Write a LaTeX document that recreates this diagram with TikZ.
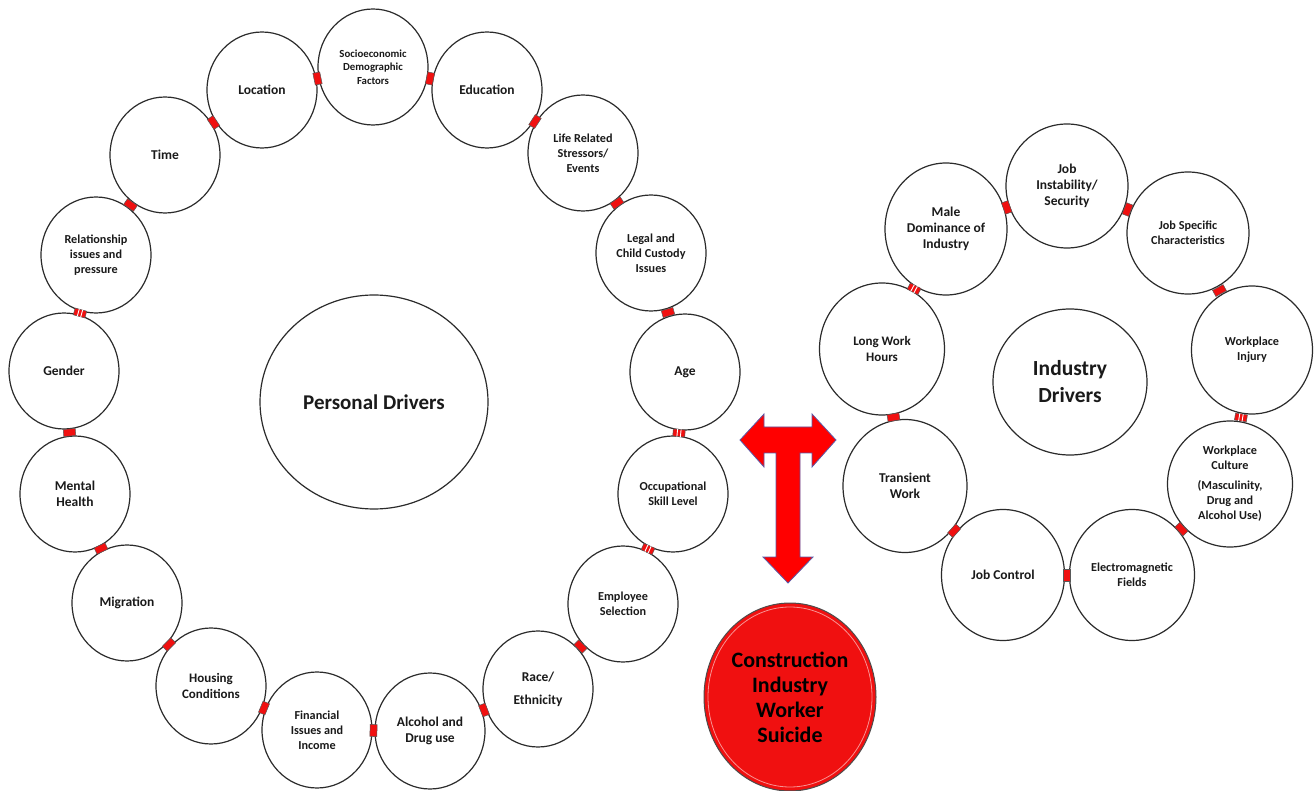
\documentclass[tikz,border=0pt]{standalone}
\usepackage{fontspec}
\setmainfont{Carlito}
\usetikzlibrary{shapes.geometric,calc}
\newcommand\fsz[2]{\fontsize{#1}{#2}\selectfont\bfseries}
\definecolor{ringline}{HTML}{2B2B2B}
\definecolor{txt}{HTML}{1A1A1A}
\definecolor{linkred}{HTML}{F01010}
\definecolor{arrowedge}{HTML}{5A5AA8}
\tikzset{
  bub/.style={shape=ellipse, draw=ringline, line width=1.2pt, fill=white, inner sep=0pt,
    minimum width=110pt, minimum height=116pt, align=center, text=txt, font={\fsz{13.5}{16}}},
  bigbub/.style={bub, minimum width=122pt, minimum height=128pt},
  small/.style={font={\fsz{12.2}{15}}},
  tiny/.style={font={\fsz{10.8}{13.5}}},
  conn/.style={draw=black!65, line width=0.5pt, fill=linkred, minimum width=7pt, minimum height=12pt, inner sep=0pt, sloped},
  stripe/.style={white, line width=0.9pt},
}
\newcommand\lnk[3]{\path (#1) -- node[conn](#3){} (#2);}
\newcommand\striped[1]{%
  \draw[stripe] ($(#1.north west)!0.36!(#1.south west)$) -- ($(#1.north east)!0.36!(#1.south east)$);
  \draw[stripe] ($(#1.north west)!0.64!(#1.south west)$) -- ($(#1.north east)!0.64!(#1.south east)$);}
\begin{document}
\begin{tikzpicture}[x=1pt,y=-1pt]
\useasboundingbox (0,0) rectangle (1315,791);
% ---------- Personal drivers ring ----------
\node[bub, tiny] (socio) at (373,67) {Socioeconomic\\Demographic\\Factors};
\node[bub] (edu) at (487,90) {Education};
\node[bub, small] (life) at (583,153) {Life Related\\Stressors/\\Events};
\node[bub, small] (legal) at (651,253) {Legal and\\Child Custody\\Issues};
\node[bub] (age) at (685,372) {Age};
\node[bub, small] (occ) at (673,494) {Occupational\\Skill Level};
\node[bub, small] (emp) at (623,604) {Employee\\Selection};
\node[bub] (race) at (538,689) {Race/\\[7pt]Ethnicity};
\node[bub] (alc) at (430,731) {Alcohol and\\Drug use};
\node[bub, small] (fin) at (317,730) {Financial\\Issues and\\Income};
\node[bub, font={\fsz{13}{15.5}}] (house) at (211,686) {Housing\\Conditions};
\node[bub] (mig) at (127,603) {Migration};
\node[bub] (mental) at (75,494) {Mental\\Health};
\node[bub] (gender) at (64,371) {Gender};
\node[bub, small] (rel) at (96,255) {Relationship\\issues and\\pressure};
\node[bub] (time) at (165,155) {Time};
\node[bub] (loc) at (262,90) {Location};
\node[bub, minimum width=228pt, minimum height=214pt, font={\fsz{21}{25}}] (pers) at (374,402) {Personal Drivers};
\lnk{socio}{edu}{c1}
\lnk{edu}{life}{c2}
\lnk{life}{legal}{c3}
\lnk{legal}{age}{c4}
\lnk{age}{occ}{c5}
\lnk{occ}{emp}{c6}
\lnk{emp}{race}{c7}
\lnk{race}{alc}{c8}
\lnk{alc}{fin}{c9}
\lnk{fin}{house}{c10}
\lnk{house}{mig}{c11}
\lnk{mig}{mental}{c12}
\lnk{mental}{gender}{c13}
\lnk{gender}{rel}{c14}
\lnk{rel}{time}{c15}
\lnk{time}{loc}{c16}
\lnk{loc}{socio}{c17}
\striped{c5}
\striped{c6}
\striped{c14}
% ---------- Industry drivers ring ----------
\node[bigbub, minimum height=124pt] (jobi) at (1067,186) {Job\\Instability/\\Security};
\node[bigbub, small, minimum height=122pt] (jobs) at (1188,233) {Job Specific\\Characteristics};
\node[bigbub, small, minimum width=121pt] (inj) at (1252,350) {Workplace\\Injury};
\node[bigbub, small, minimum width=125pt, minimum height=126pt] (cult) at (1230,484) {Workplace\\Culture\\[5pt](Masculinity,\\Drug and\\Alcohol Use)};
\node[bigbub, small, minimum width=125pt, minimum height=131pt] (emf) at (1132,575) {Electromagnetic\\Fields};
\node[bigbub, minimum width=123pt, minimum height=131pt] (jobc) at (1003,575) {Job Control};
\node[bigbub, minimum width=124pt, minimum height=133pt] (trans) at (905,486) {Transient\\Work};
\node[bigbub, font={\fsz{13}{15.5}}, minimum width=125pt, minimum height=132pt] (longw) at (882,349) {Long Work\\Hours};
\node[bigbub, minimum width=122pt, minimum height=132pt] (male) at (946,229) {Male\\Dominance of\\Industry};
\node[bub, minimum width=154pt, minimum height=146pt, font={\fsz{21.5}{27}}] (ind) at (1070,382) {Industry\\Drivers};
\lnk{jobi}{jobs}{d1}
\lnk{jobs}{inj}{d2}
\lnk{inj}{cult}{d3}
\lnk{cult}{emf}{d4}
\lnk{emf}{jobc}{d5}
\lnk{jobc}{trans}{d6}
\lnk{trans}{longw}{d7}
\lnk{longw}{male}{d8}
\lnk{male}{jobi}{d9}
\striped{d3}
\striped{d8}
% ---------- T-shaped arrow ----------
\draw[fill=red, draw=arrowedge, line width=0.8pt, line join=miter]
  (740,440) -- (764,414) -- (764,427) -- (812,427) -- (812,414) -- (836,440)
  -- (812,467) -- (812,453) -- (800,453) -- (800,557) -- (813,557) -- (788,583)
  -- (763,557) -- (776,557) -- (776,453) -- (764,453) -- (764,467) -- cycle;
% ---------- Outcome ----------
\node[shape=ellipse, draw=black!70, line width=1pt, fill=linkred, inner sep=0pt,
  minimum width=172pt, minimum height=188pt, align=center, text=black,
  font={\fsz{22}{25}},
  path picture={\draw[white, opacity=0.55, line width=0.8pt] (path picture bounding box.center) ellipse (82pt and 90pt);}]
  (cis) at (790,697) {Construction\\Industry\\Worker\\Suicide};
\end{tikzpicture}
\end{document}
